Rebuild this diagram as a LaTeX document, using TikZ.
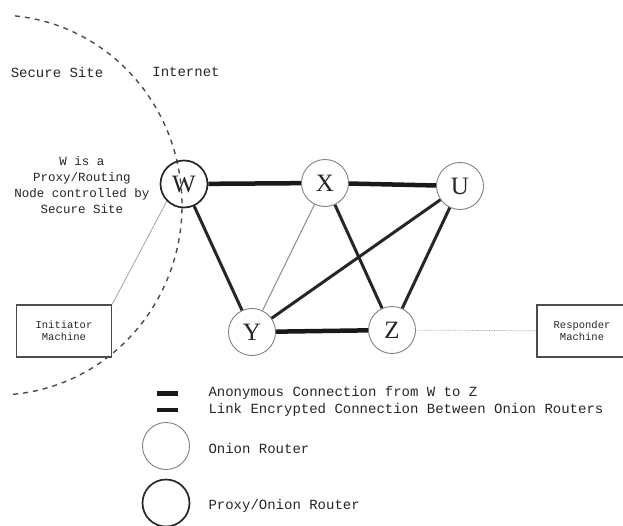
\documentclass[tikz,border=0pt]{standalone}
\usepackage{fontspec}
\setmainfont{Liberation Serif}
\newfontfamily\labelfont{Liberation Mono}
\usetikzlibrary{positioning}
\tikzset{
  router/.style={circle, draw=black!50, line width=0.9pt, minimum size=47pt, inner sep=0pt,
    text=black!85, font=\fontsize{25}{25}\selectfont},
  proxy/.style={router, draw=black!85, line width=1.7pt},
  machine/.style={draw=black!70, line width=1.4pt, minimum width=95pt, minimum height=52pt,
    align=center, inner sep=1pt, text=black!85, font=\labelfont\fontsize{10.5}{12}\selectfont},
  anon/.style={line width=4.5pt, draw=black!90},
  link/.style={line width=3pt, draw=black!85},
  thinlink/.style={line width=1pt, draw=black!45},
  lan/.style={line width=0.7pt, draw=black!40},
  bar/.style={fill=black!90, minimum width=21pt, inner sep=0pt},
  txt/.style={text=black!85, font=\labelfont\fontsize{14}{16}\selectfont},
  border/.style={draw=black!70, line width=1.4pt, dash pattern=on 5pt off 5pt}
}

\begin{document}
\begin{tikzpicture}[x=1pt, y=-1pt]
  \useasboundingbox (0,0) rectangle (623,525);

  % secure site / internet boundary
  \draw[border] (-3,205) ++(85:185 and 190) arc[start angle=85, end angle=-85, x radius=185, y radius=190];
  \node[txt] (secure) at (57,72) {Secure Site};
  \node[txt] (inet) at (186,72) {Internet};
  \node[txt, align=center, font=\labelfont\fontsize{12.5}{16}\selectfont] (wnote) at (82,185)
    {W is a\\Proxy/Routing\\Node controlled by\\Secure Site};

  % routers
  \node[proxy] (W) at (184,184) {W};
  \node[router] (X) at (325,183) {X};
  \node[router] (U) at (460,186) {U};
  \node[router] (Y) at (252,332) {Y};
  \node[router] (Z) at (392,330) {Z};

  % machines
  \node[machine] (init) at (64,331) {Initiator\\Machine};
  \node[machine, minimum width=90pt] (resp) at (582,331) {Responder\\Machine};

  % connections
  \draw[anon] (W) -- (X);
  \draw[anon] (X) -- (U);
  \draw[anon] (Y) -- (Z);
  \draw[link] (W) -- (Y);
  \draw[link] (X) -- (Z);
  \draw[link] (Y) -- (U);
  \draw[link] (U) -- (Z);
  \draw[thinlink] (X) -- (Y);
  \draw[lan] (init.north east) -- (W.south west);
  \draw[lan, densely dotted] (Z) -- (resp);

  % legend
  \node[txt, anchor=west] (anonlbl) at (205,393) {Anonymous Connection from W to Z};
  \node[txt, anchor=west] (linklbl) at (205,410) {Link Encrypted Connection Between Onion Routers};
  \node[bar, minimum height=5pt] (anonbar) at (167,393) {};
  \node[bar, minimum height=4pt] (linkbar) at (167,410) {};
  \node[router] (orkey) at (166,446) {};
  \node[txt, anchor=west] (orlbl) at (205,448) {Onion Router};
  \node[proxy] (pxkey) at (166,503) {};
  \node[txt, anchor=west] (pxlbl) at (205,506) {Proxy/Onion Router};
\end{tikzpicture}
\end{document}
